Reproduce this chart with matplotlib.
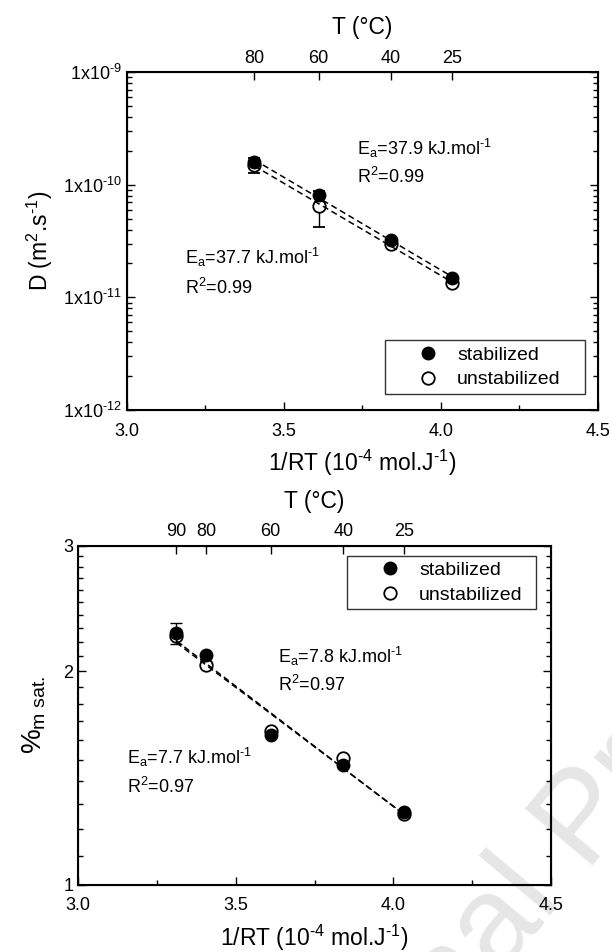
import matplotlib
matplotlib.use("Agg")
import matplotlib.pyplot as plt
import numpy as np
from matplotlib.lines import Line2D
from matplotlib.ticker import FixedLocator, NullFormatter, FuncFormatter

plt.rcParams['font.family'] = ['Liberation Sans', 'DejaVu Sans']
plt.rcParams['mathtext.fontset'] = 'custom'
plt.rcParams['mathtext.rm'] = 'Liberation Sans'
plt.rcParams['mathtext.it'] = 'Liberation Sans:italic'
plt.rcParams['mathtext.bf'] = 'Liberation Sans:bold'

R_GAS = 8.314

# diffusion coefficient vs 1/RT
temps_d = [80, 60, 40, 25]
d_stab = [1.60e-10, 8.1e-11, 3.2e-11, 1.50e-11]
d_unstab = [1.50e-10, 6.5e-11, 2.95e-11, 1.35e-11]
d_unstab_err = [0.23e-10, 2.3e-11, 0, 0]
ea_d_stab, r2_d_stab = 37.9, 0.99
ea_d_unstab, r2_d_unstab = 37.7, 0.99

# saturation mass uptake vs 1/RT
temps_m = [90, 80, 60, 40, 25]
m_stab = [2.26, 2.11, 1.626, 1.475, 1.267]
m_stab_err = [0.08, 0, 0, 0, 0]
m_unstab = [2.24, 2.04, 1.647, 1.509, 1.259]
ea_m_stab, r2_m_stab = 7.8, 0.97
ea_m_unstab, r2_m_unstab = 7.7, 0.97

x_ticks = [3.0, 3.5, 4.0, 4.5]
series_labels = ['stabilized', 'unstabilized']

HY = r"\text{-}"   # short hyphen for exponents


def inv_rt(t_celsius):
    # 1/RT in 10^-4 mol/J
    return 1e4 / (R_GAS * (np.asarray(t_celsius, float) + 273.15))


def arrhenius_line(x, y, ea):
    # ln y = ln y0 - Ea * (1/RT); Ea in kJ/mol, x in 1e-4 mol/J -> slope = -Ea/10
    slope = -ea / 10.0
    intercept = np.mean(np.log(y) - slope * x)
    xs = np.array([x.min(), x.max()])
    return xs, np.exp(intercept + slope * xs)


def ea_text(ea):
    return r"E$_\mathrm{a}$=%.1f kJ.mol$^{%s1}$" % (ea, HY)


def add_legend(ax, **kw):
    handles = [Line2D([], [], ls='none', marker='o', ms=9, mfc='black', mec='black'),
               Line2D([], [], ls='none', marker='o', ms=9, mfc='white', mec='black', mew=1.3)]
    leg = ax.legend(handles, series_labels, borderaxespad=0, fontsize=14, frameon=True,
                    fancybox=False, edgecolor='black', handlelength=3.8,
                    handletextpad=-0.4, borderpad=0.3, labelspacing=0.35,
                    mode='expand', **kw)
    leg.get_frame().set_linewidth(1.0)


def style_axes(ax, temps):
    ax.set_xlim(3.0, 4.5)
    ax.set_xticks(x_ticks)
    ax.xaxis.set_major_formatter(FuncFormatter(lambda v, p: f"{v:.1f}"))
    ax.xaxis.set_minor_locator(FixedLocator([3.25, 3.75, 4.25]))
    ax.tick_params(axis='both', which='both', direction='in', labelsize=13,
                   top=False, right=True, width=1.0)
    ax.tick_params(axis='x', pad=9)
    ax.tick_params(which='major', length=6)
    ax.tick_params(which='minor', length=3.5)
    for sp in ax.spines.values():
        sp.set_linewidth(1.5)
    ax.set_xlabel(r"1/RT (10$^{%s4}$ mol.J$^{%s1}$)" % (HY, HY), fontsize=16.5, labelpad=6)

    top = ax.twiny()
    top.set_xlim(ax.get_xlim())
    top.set_xticks(inv_rt(temps))
    top.set_xticklabels([str(t) for t in temps])
    top.xaxis.set_minor_locator(FixedLocator([]))
    top.tick_params(axis='x', direction='in', length=6, width=1.0, labelsize=13, pad=4)
    top.set_xlabel("T (°C)", fontsize=16.5, labelpad=11)
    return top


fig = plt.figure(figsize=(6.12, 9.52), dpi=100)

# faint page watermark, behind both panels
fig.text(0.9575, 0.1366, "Journal Pre-proof", fontsize=92, color='#e6e6e6',
         rotation=50, rotation_mode='anchor', ha='center', va='center', zorder=-1)

# --- diffusion coefficient ---
ax1 = fig.add_axes([0.2075, 0.5693, 0.7696, 0.3550])
ax1.patch.set_alpha(0)
x_d = inv_rt(temps_d)
ax1.set_yscale('log')
ax1.set_ylim(1e-12, 1e-9)
ax1.yaxis.set_major_formatter(
    FuncFormatter(lambda v, p: r"1x10$^{%s%d}$" % (HY, abs(round(np.log10(v))))))
ax1.yaxis.set_minor_formatter(NullFormatter())

ax1.errorbar(x_d, d_unstab, yerr=d_unstab_err, fmt='o', ms=9, mfc='white', mec='black',
             mew=1.3, ecolor='black', elinewidth=1.0, capsize=4, capthick=1.0, zorder=3)
ax1.plot(x_d, d_stab, 'o', ms=9, mfc='black', mec='black', zorder=4)
for y, ea in [(d_stab, ea_d_stab), (d_unstab, ea_d_unstab)]:
    xs, ys = arrhenius_line(x_d, np.array(y), ea)
    ax1.plot(xs, ys, color='black', lw=1.1, ls=(0, (4, 2.5)), zorder=5)

ax1.text(3.733, 2.12e-10, ea_text(ea_d_stab), fontsize=13, va='center')
ax1.text(3.733, 1.17e-10, r"R$^2$=%.2f" % r2_d_stab, fontsize=13, va='center')
ax1.text(3.185, 2.24e-11, ea_text(ea_d_unstab), fontsize=13, va='center')
ax1.text(3.185, 1.21e-11, r"R$^2$=%.2f" % r2_d_unstab, fontsize=13, va='center')
ax1.set_ylabel(r"D (m$^2$.s$^{%s1}$)" % HY, fontsize=16.5, labelpad=6)

add_legend(ax1, loc='lower left', bbox_to_anchor=(0.548, 0.047, 0.424, 0.2))
style_axes(ax1, temps_d)

# --- saturation uptake ---
ax2 = fig.add_axes([0.1275, 0.0704, 0.7729, 0.3561])
ax2.patch.set_alpha(0)
x_m = inv_rt(temps_m)
ax2.set_yscale('log')
ax2.set_ylim(1, 3)
ax2.yaxis.set_major_locator(FixedLocator([1, 2, 3]))
ax2.yaxis.set_major_formatter(FuncFormatter(lambda v, p: f"{v:g}"))
ax2.yaxis.set_minor_locator(FixedLocator([v for v in np.arange(1.1, 3.0, 0.1) if abs(v - 2) > 1e-6]))
ax2.yaxis.set_minor_formatter(NullFormatter())

ax2.plot(x_m, m_unstab, 'o', ms=9, mfc='white', mec='black', mew=1.3, zorder=3)
ax2.errorbar(x_m, m_stab, yerr=m_stab_err, fmt='o', ms=9, mfc='black', mec='black',
             ecolor='black', elinewidth=1.0, capsize=4, capthick=1.0, zorder=4)
for y, ea in [(m_stab, ea_m_stab), (m_unstab, ea_m_unstab)]:
    xs, ys = arrhenius_line(x_m, np.array(y), ea)
    ax2.plot(xs, ys, color='black', lw=1.1, ls=(0, (4, 2.5)), zorder=5)

ax2.text(3.634, 2.094, ea_text(ea_m_stab), fontsize=13, va='center')
ax2.text(3.634, 1.912, r"R$^2$=%.2f" % r2_m_stab, fontsize=13, va='center')
ax2.text(3.156, 1.51, ea_text(ea_m_unstab), fontsize=13, va='center')
ax2.text(3.156, 1.374, r"R$^2$=%.2f" % r2_m_unstab, fontsize=13, va='center')
ax2.set_ylabel(r"%$_{\mathrm{m\ sat.}}$", fontsize=20, labelpad=11)

add_legend(ax2, loc='upper left', bbox_to_anchor=(0.569, 0.871, 0.399, 0.1))
style_axes(ax2, temps_m)

fig.savefig("out.png", dpi=100)
